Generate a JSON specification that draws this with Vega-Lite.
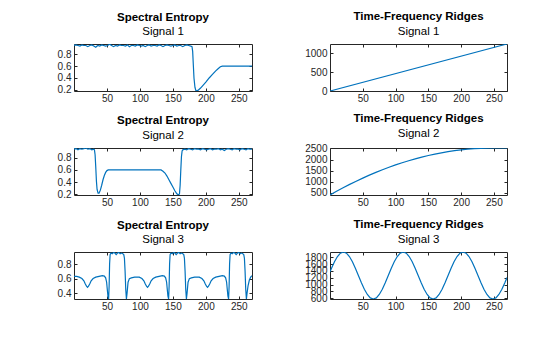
{
"$schema": "https://vega.github.io/schema/vega-lite/v6.json",
"padding": {"left": 56, "top": 10, "right": 5, "bottom": 5},
"bounds": "flush",
"columns": 2,
"spacing": {"row": 57, "column": 78},
"datasets": {
"s1e": [{"t":0,"v":0.95},{"t":3,"v":0.96},{"t":6,"v":0.95},{"t":9,"v":0.94},{"t":12,"v":0.96},{"t":15,"v":0.95},{"t":18,"v":0.95},{"t":21,"v":0.93},{"t":24,"v":0.95},{"t":27,"v":0.96},{"t":30,"v":0.94},{"t":33,"v":0.92},{"t":36,"v":0.95},{"t":39,"v":0.94},{"t":42,"v":0.96},{"t":45,"v":0.95},{"t":48,"v":0.94},{"t":51,"v":0.95},{"t":54,"v":0.97},{"t":57,"v":0.95},{"t":60,"v":0.93},{"t":63,"v":0.95},{"t":66,"v":0.94},{"t":69,"v":0.96},{"t":72,"v":0.95},{"t":75,"v":0.95},{"t":78,"v":0.94},{"t":81,"v":0.96},{"t":84,"v":0.93},{"t":87,"v":0.95},{"t":90,"v":0.95},{"t":93,"v":0.94},{"t":96,"v":0.96},{"t":99,"v":0.95},{"t":102,"v":0.94},{"t":105,"v":0.95},{"t":108,"v":0.93},{"t":111,"v":0.95},{"t":114,"v":0.96},{"t":117,"v":0.94},{"t":120,"v":0.95},{"t":123,"v":0.95},{"t":126,"v":0.94},{"t":129,"v":0.96},{"t":132,"v":0.95},{"t":135,"v":0.93},{"t":138,"v":0.95},{"t":141,"v":0.96},{"t":144,"v":0.95},{"t":147,"v":0.94},{"t":150,"v":0.95},{"t":153,"v":0.96},{"t":156,"v":0.94},{"t":159,"v":0.95},{"t":162,"v":0.95},{"t":165,"v":0.93},{"t":168,"v":0.95},{"t":171,"v":0.96},{"t":174,"v":0.95},{"t":177,"v":0.94},{"t":179,"v":0.93},{"t":180,"v":0.85},{"t":181,"v":0.62},{"t":182,"v":0.4},{"t":183.5,"v":0.24},{"t":185,"v":0.18},{"t":188,"v":0.19},{"t":192,"v":0.23},{"t":196,"v":0.28},{"t":200,"v":0.33},{"t":205,"v":0.4},{"t":210,"v":0.46},{"t":215,"v":0.52},{"t":219,"v":0.56},{"t":222,"v":0.59},{"t":225,"v":0.6},{"t":235,"v":0.6},{"t":250,"v":0.6},{"t":270,"v":0.6}],
"s2e": [{"t":0,"v":0.94},{"t":3,"v":0.95},{"t":6,"v":0.93},{"t":9,"v":0.95},{"t":12,"v":0.94},{"t":15,"v":0.95},{"t":18,"v":0.96},{"t":21,"v":0.94},{"t":24,"v":0.95},{"t":27,"v":0.93},{"t":30,"v":0.94},{"t":31,"v":0.93},{"t":32,"v":0.85},{"t":33,"v":0.65},{"t":34,"v":0.42},{"t":35,"v":0.28},{"t":36.5,"v":0.22},{"t":38,"v":0.22},{"t":40,"v":0.27},{"t":42,"v":0.35},{"t":44,"v":0.44},{"t":46,"v":0.51},{"t":48,"v":0.56},{"t":50,"v":0.59},{"t":52,"v":0.6},{"t":60,"v":0.6},{"t":90,"v":0.6},{"t":120,"v":0.6},{"t":132,"v":0.6},{"t":135,"v":0.58},{"t":138,"v":0.55},{"t":141,"v":0.5},{"t":144,"v":0.44},{"t":147,"v":0.38},{"t":150,"v":0.32},{"t":153,"v":0.26},{"t":156,"v":0.21},{"t":158.5,"v":0.19},{"t":160,"v":0.21},{"t":161,"v":0.35},{"t":162,"v":0.6},{"t":163,"v":0.82},{"t":164,"v":0.91},{"t":165,"v":0.93},{"t":168,"v":0.94},{"t":171,"v":0.93},{"t":174,"v":0.95},{"t":177,"v":0.94},{"t":180,"v":0.93},{"t":183,"v":0.95},{"t":186,"v":0.94},{"t":189,"v":0.94},{"t":192,"v":0.93},{"t":195,"v":0.95},{"t":198,"v":0.94},{"t":201,"v":0.93},{"t":204,"v":0.94},{"t":207,"v":0.95},{"t":210,"v":0.93},{"t":213,"v":0.94},{"t":216,"v":0.94},{"t":219,"v":0.95},{"t":222,"v":0.93},{"t":225,"v":0.94},{"t":228,"v":0.92},{"t":231,"v":0.94},{"t":234,"v":0.95},{"t":237,"v":0.94},{"t":240,"v":0.93},{"t":243,"v":0.95},{"t":246,"v":0.94},{"t":249,"v":0.94},{"t":252,"v":0.93},{"t":255,"v":0.95},{"t":258,"v":0.94},{"t":261,"v":0.93},{"t":264,"v":0.95},{"t":267,"v":0.94},{"t":270,"v":0.94}],
"s3e": [{"t":0,"v":0.63},{"t":4,"v":0.63},{"t":8,"v":0.62},{"t":12,"v":0.6},{"t":15,"v":0.57},{"t":17,"v":0.53},{"t":19,"v":0.495},{"t":20.5,"v":0.48},{"t":22,"v":0.495},{"t":24,"v":0.53},{"t":26,"v":0.57},{"t":29,"v":0.6},{"t":33,"v":0.62},{"t":38,"v":0.63},{"t":43,"v":0.64},{"t":46,"v":0.635},{"t":48,"v":0.61},{"t":49.5,"v":0.55},{"t":50.5,"v":0.45},{"t":51.5,"v":0.36},{"t":52.5,"v":0.32},{"t":53.3,"v":0.5},{"t":54,"v":0.8},{"t":54.8,"v":0.93},{"t":56,"v":0.95},{"t":58,"v":0.94},{"t":60,"v":0.96},{"t":62,"v":0.95},{"t":64,"v":0.93},{"t":66,"v":0.95},{"t":68,"v":0.96},{"t":70,"v":0.94},{"t":72,"v":0.95},{"t":74,"v":0.94},{"t":75.5,"v":0.93},{"t":76.5,"v":0.88},{"t":77.5,"v":0.7},{"t":78.5,"v":0.45},{"t":79.5,"v":0.32},{"t":80.5,"v":0.4},{"t":82,"v":0.55},{"t":84,"v":0.6},{"t":87,"v":0.61},{"t":92,"v":0.62},{"t":96,"v":0.62},{"t":99,"v":0.62},{"t":103,"v":0.6},{"t":106,"v":0.57},{"t":108,"v":0.53},{"t":110,"v":0.495},{"t":111.5,"v":0.48},{"t":113,"v":0.495},{"t":115,"v":0.53},{"t":117,"v":0.57},{"t":120,"v":0.6},{"t":124,"v":0.62},{"t":129,"v":0.63},{"t":134,"v":0.64},{"t":137,"v":0.635},{"t":139,"v":0.61},{"t":140.5,"v":0.55},{"t":141.5,"v":0.45},{"t":142.5,"v":0.36},{"t":143.5,"v":0.32},{"t":144.3,"v":0.5},{"t":145,"v":0.8},{"t":145.8,"v":0.93},{"t":147,"v":0.95},{"t":149,"v":0.94},{"t":151,"v":0.96},{"t":153,"v":0.95},{"t":155,"v":0.93},{"t":157,"v":0.95},{"t":159,"v":0.96},{"t":161,"v":0.94},{"t":163,"v":0.95},{"t":165,"v":0.94},{"t":166.5,"v":0.93},{"t":167.5,"v":0.88},{"t":168.5,"v":0.7},{"t":169.5,"v":0.45},{"t":170.5,"v":0.32},{"t":171.5,"v":0.4},{"t":173,"v":0.55},{"t":175,"v":0.6},{"t":178,"v":0.61},{"t":183,"v":0.62},{"t":187,"v":0.62},{"t":190,"v":0.62},{"t":194,"v":0.6},{"t":197,"v":0.57},{"t":199,"v":0.53},{"t":201,"v":0.495},{"t":202.5,"v":0.48},{"t":204,"v":0.495},{"t":206,"v":0.53},{"t":208,"v":0.57},{"t":211,"v":0.6},{"t":215,"v":0.62},{"t":220,"v":0.63},{"t":225,"v":0.64},{"t":228,"v":0.635},{"t":230,"v":0.61},{"t":231.5,"v":0.55},{"t":232.5,"v":0.45},{"t":233.5,"v":0.36},{"t":234.5,"v":0.32},{"t":235.3,"v":0.5},{"t":236,"v":0.8},{"t":236.8,"v":0.93},{"t":238,"v":0.95},{"t":240,"v":0.94},{"t":242,"v":0.96},{"t":244,"v":0.95},{"t":246,"v":0.93},{"t":248,"v":0.95},{"t":250,"v":0.96},{"t":252,"v":0.94},{"t":254,"v":0.95},{"t":256,"v":0.94},{"t":257.5,"v":0.93},{"t":258.5,"v":0.88},{"t":259.5,"v":0.7},{"t":260.5,"v":0.45},{"t":261.5,"v":0.32},{"t":262.5,"v":0.4},{"t":264,"v":0.5},{"t":266,"v":0.58},{"t":268,"v":0.62},{"t":270,"v":0.64}],
"s1r": [{"t":0,"v":0},{"t":270,"v":1240}],
"s2r": [{"t":0,"v":400},{"t":10,"v":566},{"t":20,"v":726},{"t":30,"v":878},{"t":40,"v":1024},{"t":50,"v":1163},{"t":60,"v":1296},{"t":70,"v":1421},{"t":80,"v":1540},{"t":90,"v":1652},{"t":100,"v":1757},{"t":110,"v":1855},{"t":120,"v":1947},{"t":130,"v":2032},{"t":140,"v":2110},{"t":150,"v":2181},{"t":160,"v":2245},{"t":170,"v":2303},{"t":180,"v":2354},{"t":190,"v":2398},{"t":200,"v":2435},{"t":210,"v":2466},{"t":220,"v":2490},{"t":230,"v":2506},{"t":240,"v":2517},{"t":250,"v":2520},{"t":260,"v":2520},{"t":270,"v":2520}],
"s3r": [{"t":0,"v":1373},{"t":2.3,"v":1477},{"t":6.8,"v":1668},{"t":11.4,"v":1819},{"t":15.9,"v":1916},{"t":20.5,"v":1950},{"t":25.1,"v":1916},{"t":29.6,"v":1819},{"t":34.2,"v":1668},{"t":38.7,"v":1477},{"t":43.3,"v":1265},{"t":47.9,"v":1053},{"t":52.4,"v":862},{"t":57,"v":711},{"t":61.5,"v":613},{"t":66.1,"v":580},{"t":70.7,"v":613},{"t":75.2,"v":711},{"t":79.8,"v":862},{"t":84.3,"v":1053},{"t":88.9,"v":1265},{"t":93.5,"v":1477},{"t":98,"v":1668},{"t":102.6,"v":1819},{"t":107.1,"v":1916},{"t":111.7,"v":1950},{"t":116.3,"v":1916},{"t":120.8,"v":1819},{"t":125.4,"v":1668},{"t":129.9,"v":1477},{"t":134.5,"v":1265},{"t":139.1,"v":1053},{"t":143.6,"v":862},{"t":148.2,"v":711},{"t":152.7,"v":613},{"t":157.3,"v":580},{"t":161.9,"v":613},{"t":166.4,"v":711},{"t":171,"v":862},{"t":175.5,"v":1053},{"t":180.1,"v":1265},{"t":184.7,"v":1477},{"t":189.2,"v":1668},{"t":193.8,"v":1819},{"t":198.3,"v":1916},{"t":202.9,"v":1950},{"t":207.5,"v":1916},{"t":212,"v":1819},{"t":216.6,"v":1668},{"t":221.1,"v":1477},{"t":225.7,"v":1265},{"t":230.3,"v":1053},{"t":234.8,"v":862},{"t":239.4,"v":711},{"t":243.9,"v":613},{"t":248.5,"v":580},{"t":253.1,"v":613},{"t":257.6,"v":711},{"t":262.2,"v":862},{"t":266.7,"v":1053},{"t":270,"v":1204}]
},
"concat": [
{"width":178,"height":47,"title":{"text":"Spectral Entropy","subtitle":"Signal 1"},"data":{"name":"s1e"},
 "layer":[
  {"mark":{"type":"line","clip":true},"encoding":{"x":{"field":"t","type":"quantitative","scale":{"domain":[0,270],"nice":false,"zero":false},"axis":{"title":null,"orient":"bottom","values":[50,100,150,200,250]}},"y":{"field":"v","type":"quantitative","scale":{"domain":[0.18,0.975],"nice":false,"zero":false},"axis":{"title":null,"orient":"left","values":[0.2,0.4,0.6,0.8],"format":".1f"}}}},
  {"mark":{"type":"point","opacity":0},"encoding":{"x":{"field":"t","type":"quantitative","scale":{"domain":[0,270],"nice":false,"zero":false},"axis":{"title":null,"orient":"top","values":[50,100,150,200,250],"labels":false}},"y":{"field":"v","type":"quantitative","scale":{"domain":[0.18,0.975],"nice":false,"zero":false},"axis":{"title":null,"orient":"right","values":[0.2,0.4,0.6,0.8],"labels":false}}}}
 ],"resolve":{"axis":{"x":"independent","y":"independent"}}},
{"width":177,"height":47,"title":{"text":"Time-Frequency Ridges","subtitle":"Signal 1"},"data":{"name":"s1r"},
 "layer":[
  {"mark":{"type":"line","clip":true},"encoding":{"x":{"field":"t","type":"quantitative","scale":{"domain":[0,270],"nice":false,"zero":false},"axis":{"title":null,"orient":"bottom","values":[50,100,150,200,250]}},"y":{"field":"v","type":"quantitative","scale":{"domain":[0,1240],"nice":false,"zero":false},"axis":{"title":null,"orient":"left","values":[0,500,1000],"format":"d"}}}},
  {"mark":{"type":"point","opacity":0},"encoding":{"x":{"field":"t","type":"quantitative","scale":{"domain":[0,270],"nice":false,"zero":false},"axis":{"title":null,"orient":"top","values":[50,100,150,200,250],"labels":false}},"y":{"field":"v","type":"quantitative","scale":{"domain":[0,1240],"nice":false,"zero":false},"axis":{"title":null,"orient":"right","values":[0,500,1000],"labels":false}}}}
 ],"resolve":{"axis":{"x":"independent","y":"independent"}}},
{"width":178,"height":47,"title":{"text":"Spectral Entropy","subtitle":"Signal 2"},"data":{"name":"s2e"},
 "layer":[
  {"mark":{"type":"line","clip":true},"encoding":{"x":{"field":"t","type":"quantitative","scale":{"domain":[0,270],"nice":false,"zero":false},"axis":{"title":null,"orient":"bottom","values":[50,100,150,200,250]}},"y":{"field":"v","type":"quantitative","scale":{"domain":[0.19,0.96],"nice":false,"zero":false},"axis":{"title":null,"orient":"left","values":[0.2,0.4,0.6,0.8],"format":".1f"}}}},
  {"mark":{"type":"point","opacity":0},"encoding":{"x":{"field":"t","type":"quantitative","scale":{"domain":[0,270],"nice":false,"zero":false},"axis":{"title":null,"orient":"top","values":[50,100,150,200,250],"labels":false}},"y":{"field":"v","type":"quantitative","scale":{"domain":[0.19,0.96],"nice":false,"zero":false},"axis":{"title":null,"orient":"right","values":[0.2,0.4,0.6,0.8],"labels":false}}}}
 ],"resolve":{"axis":{"x":"independent","y":"independent"}}},
{"width":177,"height":47,"title":{"text":"Time-Frequency Ridges","subtitle":"Signal 2"},"data":{"name":"s2r"},
 "layer":[
  {"mark":{"type":"line","clip":true},"encoding":{"x":{"field":"t","type":"quantitative","scale":{"domain":[0,270],"nice":false,"zero":false},"axis":{"title":null,"orient":"bottom","values":[50,100,150,200,250]}},"y":{"field":"v","type":"quantitative","scale":{"domain":[400,2520],"nice":false,"zero":false},"axis":{"title":null,"orient":"left","values":[500,1000,1500,2000,2500],"format":"d"}}}},
  {"mark":{"type":"point","opacity":0},"encoding":{"x":{"field":"t","type":"quantitative","scale":{"domain":[0,270],"nice":false,"zero":false},"axis":{"title":null,"orient":"top","values":[50,100,150,200,250],"labels":false}},"y":{"field":"v","type":"quantitative","scale":{"domain":[400,2520],"nice":false,"zero":false},"axis":{"title":null,"orient":"right","values":[500,1000,1500,2000,2500],"labels":false}}}}
 ],"resolve":{"axis":{"x":"independent","y":"independent"}}},
{"width":178,"height":47,"title":{"text":"Spectral Entropy","subtitle":"Signal 3"},"data":{"name":"s3e"},
 "layer":[
  {"mark":{"type":"line","clip":true},"encoding":{"x":{"field":"t","type":"quantitative","scale":{"domain":[0,270],"nice":false,"zero":false},"axis":{"title":null,"orient":"bottom","values":[50,100,150,200,250]}},"y":{"field":"v","type":"quantitative","scale":{"domain":[0.32,0.965],"nice":false,"zero":false},"axis":{"title":null,"orient":"left","values":[0.4,0.6,0.8],"format":".1f"}}}},
  {"mark":{"type":"point","opacity":0},"encoding":{"x":{"field":"t","type":"quantitative","scale":{"domain":[0,270],"nice":false,"zero":false},"axis":{"title":null,"orient":"top","values":[50,100,150,200,250],"labels":false}},"y":{"field":"v","type":"quantitative","scale":{"domain":[0.32,0.965],"nice":false,"zero":false},"axis":{"title":null,"orient":"right","values":[0.4,0.6,0.8],"labels":false}}}}
 ],"resolve":{"axis":{"x":"independent","y":"independent"}}},
{"width":177,"height":47,"title":{"text":"Time-Frequency Ridges","subtitle":"Signal 3"},"data":{"name":"s3r"},
 "layer":[
  {"mark":{"type":"line","clip":true},"encoding":{"x":{"field":"t","type":"quantitative","scale":{"domain":[0,270],"nice":false,"zero":false},"axis":{"title":null,"orient":"bottom","values":[50,100,150,200,250]}},"y":{"field":"v","type":"quantitative","scale":{"domain":[580,1950],"nice":false,"zero":false},"axis":{"title":null,"orient":"left","values":[600,800,1000,1200,1400,1600,1800],"format":"d"}}}},
  {"mark":{"type":"point","opacity":0},"encoding":{"x":{"field":"t","type":"quantitative","scale":{"domain":[0,270],"nice":false,"zero":false},"axis":{"title":null,"orient":"top","values":[50,100,150,200,250],"labels":false}},"y":{"field":"v","type":"quantitative","scale":{"domain":[580,1950],"nice":false,"zero":false},"axis":{"title":null,"orient":"right","values":[600,800,1000,1200,1400,1600,1800],"labels":false}}}}
 ],"resolve":{"axis":{"x":"independent","y":"independent"}}}
],
"config": {
 "background": "#ffffff",
 "view": {"stroke": "#262626", "strokeWidth": 1},
 "font": "Liberation Sans",
 "title": {"font": "Liberation Sans", "fontSize": 11.5, "fontWeight": "bold", "color": "#000000", "subtitleFont": "Liberation Sans", "subtitleFontSize": 11.5, "subtitleColor": "#000000", "subtitlePadding": 3, "offset": 4, "anchor": "middle"},
 "axis": {"domain": false, "grid": false, "ticks": true, "tickColor": "#262626", "tickSize": -3, "labelColor": "#262626", "labelFont": "Liberation Sans", "labelFontSize": 10, "labelOverlap": false, "labelFlush": false, "labelBound": false},
 "axisX": {"labelPadding": 5},
 "axisY": {"labelPadding": 6},
 "line": {"color": "#0072BD", "strokeWidth": 1.2}
}
}
